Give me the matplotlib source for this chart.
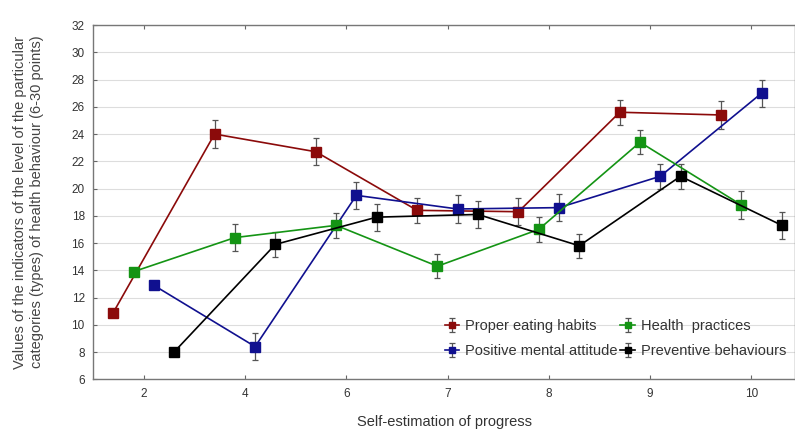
import matplotlib
matplotlib.use('Agg')
import matplotlib.pyplot as plt
import numpy as np

plt.rcParams['font.family'] = ['Liberation Sans', 'DejaVu Sans']

# Categories on the x axis (self-estimation of progress)
categories = ['2', '4', '6', '7', '8', '9', '10']

# Mean values per health behaviour category
proper_eating = [10.9, 24.0, 22.7, 18.4, 18.3, 25.6, 25.4]
health_practices = [13.9, 16.4, 17.3, 14.3, 17.0, 23.4, 18.8]
positive_mental = [12.9, 8.4, 19.5, 18.5, 18.6, 20.9, 27.0]
preventive = [8.0, 15.9, 17.9, 18.1, 15.8, 20.9, 17.3]

# Error bar half-widths (no bars at the first category)
err_eating = [0, 1.0, 1.0, 0.9, 1.0, 0.9, 1.0]
err_practices = [0, 1.0, 0.9, 0.9, 0.9, 0.9, 1.0]
err_mental = [0, 1.0, 1.0, 1.0, 1.0, 0.9, 1.0]
err_preventive = [0, 0.9, 1.0, 1.0, 0.9, 0.9, 1.0]

series = [
    ('Proper eating habits', proper_eating, err_eating, '#8b0a0a', -0.3),
    ('Positive mental attitude', positive_mental, err_mental, '#10108f', 0.1),
    ('Health  practices', health_practices, err_practices, '#149414', -0.1),
    ('Preventive behaviours', preventive, err_preventive, '#000000', 0.3),
]

fig = plt.figure(figsize=(7.95, 4.32), dpi=100)
ax = fig.add_axes([0.117, 0.122, 0.883, 0.82])

x = np.arange(len(categories))
for name, vals, errs, color, off in series:
    errs = np.array(errs, dtype=float)
    errs[errs == 0] = np.nan
    ax.errorbar(x + off, vals, yerr=errs, color=color, marker='s',
                markersize=7, markeredgecolor=color, linewidth=1.2,
                elinewidth=0.9, ecolor='#555555', capsize=2, capthick=0.9,
                label=name, zorder=3)

ax.set_xlim(-0.5, 6.43)
ax.set_ylim(6, 32)
ax.set_xticks(x)
ax.set_xticklabels(categories)
ax.set_yticks(np.arange(6, 33, 2))
ax.yaxis.grid(True, color='#dddddd', linewidth=0.8)
ax.set_axisbelow(True)

ax.tick_params(axis='both', direction='in', labelsize=8.5, colors='#666666',
               labelcolor='#333333', length=3)
ax.tick_params(axis='x', top=True, pad=6)
ax.tick_params(axis='y', pad=6)
for sp in ax.spines.values():
    sp.set_color('#777777')
    sp.set_linewidth(1.0)

ax.set_xlabel('Self-estimation of progress', fontsize=10.5, color='#333333',
              labelpad=11)
ax.set_ylabel('Values of the indicators of the level of the particular\n'
              'categories (types) of health behaviour (6-30 points)',
              fontsize=10.5, color='#444444', labelpad=20, linespacing=1.2)

leg = ax.legend(ncol=2, loc='lower right', bbox_to_anchor=(1.0, 0.035),
                frameon=False, fontsize=10.5, handlelength=1.0,
                handletextpad=0.4, columnspacing=0.2, labelspacing=0.75,
                markerscale=0.55, borderaxespad=0.2)
for t in leg.get_texts():
    t.set_color('#333333')

fig.savefig('out.png', dpi=100)
